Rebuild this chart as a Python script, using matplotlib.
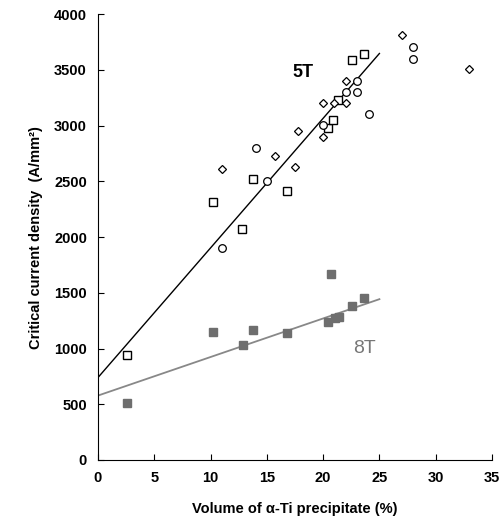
import numpy as np
import matplotlib.pyplot as plt

plt.rcParams['font.family'] = ['Liberation Sans', 'DejaVu Sans']

# 5T data: three sample groups
sq5_x = [2.6, 10.2, 12.8, 13.8, 16.8, 20.4, 20.9, 21.3, 22.6, 23.6]
sq5_y = [940, 2315, 2075, 2520, 2410, 2975, 3050, 3230, 3585, 3640]
ci5_x = [11.0, 14.0, 15.0, 20.0, 22.0, 23.0, 23.0, 24.1, 28.0, 28.0]
ci5_y = [1905, 2800, 2505, 3010, 3305, 3305, 3400, 3105, 3710, 3600]
di5_x = [11.0, 15.7, 17.5, 17.8, 20.0, 20.0, 21.0, 22.0, 22.0, 27.0, 33.0]
di5_y = [2615, 2725, 2630, 2950, 3205, 2900, 3205, 3205, 3400, 3810, 3505]

# 8T data
sq8_x = [2.6, 10.2, 12.85, 13.8, 16.8, 20.4, 20.7, 21.05, 21.4, 22.6, 23.6]
sq8_y = [515, 1150, 1035, 1165, 1140, 1235, 1665, 1275, 1280, 1385, 1450]

# linear fits (intercept, slope) and range
fit5 = (740, 116.3)
fit8 = (578, 34.6)
fit_x = [0, 25]

fig = plt.figure(figsize=(5.01, 5.26), dpi=100)
ax = fig.add_axes([0.1956, 0.1255, 0.7864, 0.8475])

xf = np.array(fit_x)
ax.plot(xf, fit5[0] + fit5[1]*xf, color='black', lw=1)
ax.plot(xf, fit8[0] + fit8[1]*xf, color='#888888', lw=1.3)

ax.plot(sq5_x, sq5_y, 's', mfc='white', mec='black', ms=5.2, mew=1)
ax.plot(ci5_x, ci5_y, 'o', mfc='white', mec='black', ms=5.5, mew=0.9)
ax.plot(di5_x, di5_y, 'D', mfc='white', mec='black', ms=4, mew=0.9)
ax.plot(sq8_x, sq8_y, 's', color='#6e6e6e', ms=6)

ax.text(18.2, 3480, '5T', fontsize=13, fontweight='bold', ha='center', va='center')
ax.text(23.7, 1000, '8T', fontsize=14, color='#777777', ha='center', va='center')

ax.set_xlim(0, 35)
ax.set_ylim(0, 4000)
ax.set_xticks(range(0, 36, 5))
ax.set_yticks(range(0, 4001, 500))
ax.spines['top'].set_visible(False)
ax.spines['right'].set_visible(False)
ax.tick_params(direction='in', length=4, labelsize=10.5, pad=8)
for lb in ax.get_xticklabels() + ax.get_yticklabels():
    lb.set_fontweight('bold')

ax.set_xlabel('Volume of α-Ti precipitate (%)', fontsize=10.5, fontweight='bold', labelpad=12)
ax.set_ylabel('Critical current density  (A/mm²)', fontsize=10.5, fontweight='bold', labelpad=8)

fig.savefig('out.png', dpi=100)
